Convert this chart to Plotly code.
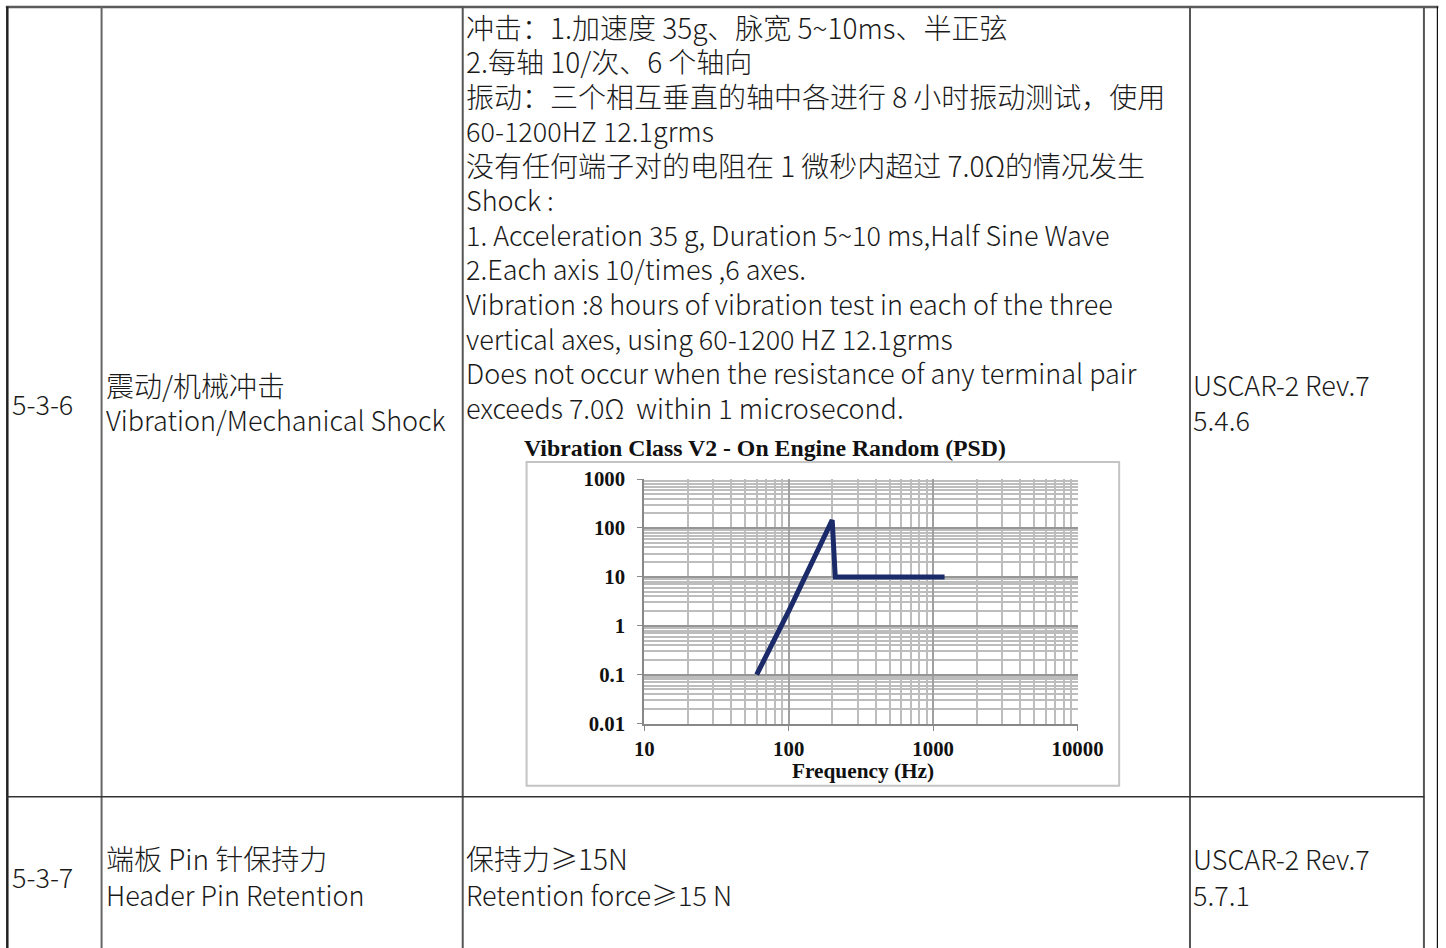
import plotly.graph_objects as go

# Measured photo transform: image_px = A + S * page_px.  Positions below are
# given in the reference picture's pixels and mapped back to page pixels.
SX, SY = 0.978, 0.977
AX, AY = 9.2, 10.6
FW, FH = 1480, 972

# ---- embedded PSD chart data ----
freq_hz = [60, 100, 200, 210, 1200]
psd_g2hz = [0.1, 2.0, 145, 10, 10]

x_tickvals = [10, 100, 1000, 10000]
x_ticktext = ["10", "100", "1000", "10000"]
y_tickvals = [0.01, 0.1, 1, 10, 100, 1000]
y_ticktext = ["0.01", "0.1", "1", "10", "100", "1000"]

chart_title = "Vibration Class V2 - On Engine Random (PSD)"
x_axis_title = "Frequency (Hz)"

# ---- table content ----
row_ids = ["5-3-6", "5-3-7"]
item_names = [
    ["震动/机械冲击", "Vibration/Mechanical Shock"],
    ["端板 Pin 针保持力", "Header Pin Retention"],
]
requirements = [
    [
        "冲击：1.加速度 35g、脉宽 5~10ms、半正弦",
        "2.每轴 10/次、6 个轴向",
        "振动：三个相互垂直的轴中各进行 8 小时振动测试，使用",
        "60-1200HZ 12.1grms",
        "没有任何端子对的电阻在 1 微秒内超过 7.0Ω的情况发生",
        "Shock :",
        "1. Acceleration 35 g, Duration 5~10 ms,Half Sine Wave",
        "2.Each axis 10/times ,6 axes.",
        "Vibration :8 hours of vibration test in each of the three",
        "vertical axes, using 60-1200 HZ 12.1grms",
        "Does not occur when the resistance of any terminal pair",
        "exceeds 7.0Ω  within 1 microsecond.",
    ],
    ["保持力≥15N", "Retention force≥15 N"],
]
standards = [
    ["USCAR-2 Rev.7", "5.4.6"],
    ["USCAR-2 Rev.7", "5.7.1"],
]


def px(x):
    return ((x - AX) / SX) / FW


def py(y):
    return 1 - ((y - AY) / SY) / FH


CJK_FONT = dict(family="Noto Sans CJK SC", size=28, color="#1a1a1a", weight=300)
LAT_FONT = dict(family="Noto Sans CJK SC", size=27, color="#1a1a1a", weight=300)
SERIF = "Liberation Serif"


def has_cjk(s):
    return any(ord(c) > 0x2E80 for c in s)


fig = go.Figure()
fig.add_trace(
    go.Scatter(
        x=freq_hz,
        y=psd_g2hz,
        mode="lines",
        line=dict(color="#1b2a68", width=5),
        showlegend=False,
        hoverinfo="skip",
    )
)

annotations = []
DY = -2.5


def text(x, y, s, font=None, xanchor="left", dy=DY):
    if font is None:
        font = CJK_FONT if has_cjk(s) else LAT_FONT
    annotations.append(
        dict(
            x=px(x), y=py(y + dy), xref="paper", yref="paper", text=s,
            showarrow=False, xanchor=xanchor, yanchor="middle",
            font=font, align="left",
        )
    )


# column 1
text(9, 405, row_ids[0])
text(9, 878, row_ids[1])
# column 2
text(103, 386, item_names[0][0])
text(103, 421, item_names[0][1])
text(103, 860, item_names[1][0])
text(103, 896, item_names[1][1])
# column 3
line_y0, line_step = 28, 34.6
for i, s in enumerate(requirements[0]):
    text(464, line_y0 + i * line_step, s)
text(464, 860, requirements[1][0])
text(464, 896, requirements[1][1])
# column 4
text(1193, 386, standards[0][0])
text(1193, 421, standards[0][1])
text(1193, 860, standards[1][0])
text(1193, 896, standards[1][1])

# chart title & x title
text(766, 447, chart_title,
     font=dict(family=SERIF, size=23.8, color="#111", weight="bold"),
     xanchor="center", dy=0)
text(864, 770, x_axis_title,
     font=dict(family=SERIF, size=21.3, color="#111", weight="bold"),
     xanchor="center", dy=0)

shapes = []


def hline(y, x0, x1, color="#555", width=2):
    shapes.append(dict(type="line", xref="paper", yref="paper",
                       x0=px(x0), x1=px(x1), y0=py(y), y1=py(y),
                       line=dict(color=color, width=width)))


def vline(x, y0, y1, color="#555", width=2):
    shapes.append(dict(type="line", xref="paper", yref="paper",
                       x0=px(x), x1=px(x), y0=py(y0), y1=py(y1),
                       line=dict(color=color, width=width)))


# table borders
hline(5.5, 5, 1441, color="#5a5a5a", width=2.5)
vline(6.5, 5, 960, color="#222", width=2.5)
vline(101, 5, 960, color="#666", width=2)
vline(463, 5, 960, color="#555", width=2)
vline(1192, 5, 960, color="#555", width=2)
vline(1426.5, 5, 960, color="#555", width=2)
vline(1440, 5, 960, color="#111", width=1.2)
hline(796, 6, 1427, color="#333", width=1.5)

# chart frame
shapes.append(dict(type="rect", xref="paper", yref="paper",
                   x0=px(527), x1=px(1121), y0=py(785), y1=py(461),
                   line=dict(color="#c4c4c4", width=2), fillcolor="rgba(0,0,0,0)"))

TICK_FONT = dict(family=SERIF, size=20.8, color="#111", weight="bold")

fig.update_layout(
    width=FW, height=FH,
    margin=dict(l=0, r=0, t=0, b=0),
    paper_bgcolor="white", plot_bgcolor="white",
    font=CJK_FONT,
    annotations=annotations,
    shapes=shapes,
    showlegend=False,
    xaxis=dict(
        type="log", range=[1, 4], domain=[px(645), px(1079.3)],
        tickvals=x_tickvals, ticktext=x_ticktext,
        tickfont=TICK_FONT,
        showgrid=True, gridcolor="#a0a0a0", gridwidth=1.5,
        minor=dict(dtick="D1", showgrid=True, gridcolor="#bdbdbd", gridwidth=1.5),
        showline=True, linecolor="#888", linewidth=2,
        ticks="outside", ticklen=5, tickcolor="#888",
        ticklabelstandoff=0, zeroline=False, fixedrange=True,
    ),
    yaxis=dict(
        type="log", range=[-2, 3], domain=[py(722.7), py(478)],
        tickvals=y_tickvals, ticktext=y_ticktext,
        tickfont=TICK_FONT,
        showgrid=True, gridcolor="#969696", gridwidth=2,
        minor=dict(dtick="D1", showgrid=True, gridcolor="#bdbdbd", gridwidth=1.5),
        showline=True, linecolor="#888", linewidth=2,
        ticks="outside", ticklen=5, tickcolor="#888",
        ticklabelstandoff=8, zeroline=False, fixedrange=True,
    ),
)

fig.write_html(
    "out.html",
    config={"displayModeBar": False},
    post_script=(
        "document.body.style.margin='0';"
        "document.documentElement.style.overflow='hidden';"
        "document.body.style.overflow='hidden';"
    ),
)
